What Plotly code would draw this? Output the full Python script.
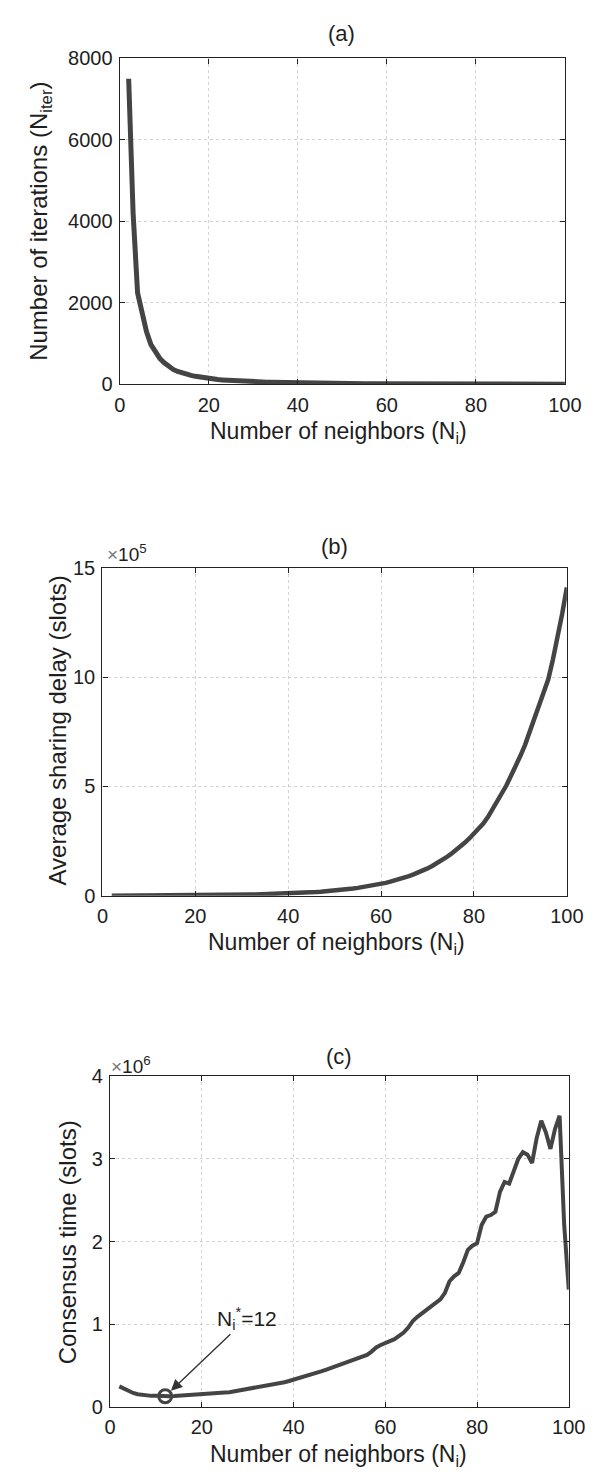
import plotly.graph_objects as go

W, H = 597, 1479

# ---------------- data ----------------
neighbors = list(range(2, 101))

# (a) Number of iterations N_iter
iterations = [7500, 4200, 2250, 1750, 1300, 980, 790, 640, 530, 440,
              370, 320, 280, 250, 225, 200, 180, 160, 140, 130,
              120, 112, 104, 97, 91, 85, 79, 74, 69, 65,
              61, 57, 54, 51, 48, 45, 40, 38, 36, 34,
              32, 31, 29, 28, 27, 26, 25, 24, 23, 22,
              21, 20.5, 20, 19.5, 19, 18.5, 18, 17.5, 17, 16.5,
              16, 15.7, 15.4, 15, 14.7, 14.4, 14.1, 13.8, 13.5, 13.2,
              13, 12.7, 12.5, 12.2, 12, 11.8, 11.6, 11.4, 11.2, 11,
              10.8, 10.6, 10.4, 10.2, 10, 9.9, 9.7, 9.5, 9.4, 9.2,
              9.1, 8.9, 8.8, 8.7, 8.5, 8.4, 8.3, 8.2, 8.1]

# (b) Average sharing delay, in units of 1e5 slots
delay_e5 = [0.0042, 0.0046, 0.005, 0.0055, 0.006, 0.0065, 0.007, 0.008, 0.0085, 0.009,
            0.01, 0.011, 0.012, 0.013, 0.014, 0.015, 0.017, 0.018, 0.02, 0.022,
            0.024, 0.026, 0.028, 0.03, 0.033, 0.036, 0.039, 0.042, 0.046, 0.05,
            0.054, 0.059, 0.064, 0.069, 0.075, 0.081, 0.088, 0.096, 0.104, 0.113,
            0.122, 0.133, 0.145, 0.157, 0.17, 0.185, 0.2, 0.22, 0.24, 0.26,
            0.28, 0.305, 0.33, 0.36, 0.39, 0.425, 0.46, 0.5, 0.545, 0.59,
            0.645, 0.7, 0.76, 0.83, 0.9, 0.98, 1.06, 1.15, 1.25, 1.36,
            1.48, 1.61, 1.75, 1.9, 2.06, 2.23, 2.42, 2.62, 2.85, 3.05,
            3.3, 3.6, 3.95, 4.3, 4.65, 5.05, 5.5, 5.9, 6.4, 6.9,
            7.5, 8.1, 8.6, 9.2, 9.9, 10.8, 11.8, 12.9, 14.1]

# (c) Consensus time, in units of 1e6 slots
consensus_e6 = [0.25, 0.22, 0.19, 0.17, 0.155, 0.145, 0.14, 0.135, 0.135, 0.13,
                0.13, 0.13, 0.132, 0.135, 0.137, 0.14, 0.142, 0.145, 0.15, 0.155,
                0.16, 0.165, 0.17, 0.175, 0.18, 0.19, 0.195, 0.2, 0.21, 0.22,
                0.23, 0.24, 0.25, 0.26, 0.27, 0.285, 0.3, 0.315, 0.33, 0.345,
                0.36, 0.375, 0.39, 0.41, 0.43, 0.45, 0.47, 0.49, 0.51, 0.53,
                0.55, 0.57, 0.59, 0.6, 0.63, 0.67, 0.72, 0.75, 0.77, 0.79,
                0.82, 0.86, 0.9, 0.96, 1.04, 1.09, 1.13, 1.17, 1.21, 1.25,
                1.3, 1.38, 1.52, 1.58, 1.62, 1.75, 1.9, 1.95, 1.98, 2.2,
                2.3, 2.32, 2.36, 2.6, 2.72, 2.7, 2.85, 3.0, 3.08, 3.05,
                2.95, 3.25, 3.46, 3.32, 3.12, 3.36, 3.52, 2.2, 1.42]

optimum_n = [12]
optimum_val = [0.13]

x_ticks = [0, 20, 40, 60, 80, 100]
a_ticks = [0, 2000, 4000, 6000, 8000]
b_ticks = [0, 5, 10, 15]
c_ticks = [0, 1, 2, 3, 4]

# ---------------- layout helpers ----------------
FONT = "Liberation Sans, Arial, sans-serif"
TXT = "#1e1e1e"
LINE = "#444444"


def xdom(l, r):
    return [l / W, r / W]


def ydom(top, bottom):
    return [1 - bottom / H, 1 - top / H]


boxes = {
    "a": (110, 573, 40, 371),
    "b": (92, 575, 557, 890),
    "c": (100, 577, 1073, 1409),
}

fig = go.Figure()

fig.add_trace(go.Scatter(x=neighbors, y=iterations, mode="lines",
                         line=dict(color=LINE, width=5), xaxis="x", yaxis="y",
                         showlegend=False))
fig.add_trace(go.Scatter(x=neighbors, y=delay_e5, mode="lines",
                         line=dict(color=LINE, width=4.5), xaxis="x2", yaxis="y2",
                         showlegend=False))
fig.add_trace(go.Scatter(x=neighbors, y=consensus_e6, mode="lines",
                         line=dict(color=LINE, width=4), xaxis="x3", yaxis="y3",
                         showlegend=False))
fig.add_trace(go.Scatter(x=optimum_n, y=optimum_val, mode="markers",
                         marker=dict(symbol="circle-open", size=13, color=LINE,
                                     line=dict(color=LINE, width=3)),
                         xaxis="x3", yaxis="y3", showlegend=False))


def axis_common():
    return dict(
        showline=True, linecolor="#222", linewidth=1.4, mirror="ticks",
        ticks="inside", ticklen=5, tickwidth=1.2, tickcolor="#222",
        showgrid=True, gridcolor="#d2d2d2", griddash="dot", gridwidth=1,
        zeroline=False, ticklabelstandoff=2,
        tickfont=dict(family=FONT, size=20, color=TXT),
    )


layout = dict(
    width=W, height=H,
    paper_bgcolor="white", plot_bgcolor="white",
    margin=dict(l=0, r=0, t=0, b=0),
    font=dict(family=FONT, color=TXT),
    showlegend=False,
)

names = [("a", "x", "y", a_ticks, [0, 8000]),
         ("b", "x2", "y2", b_ticks, [0, 15]),
         ("c", "x3", "y3", c_ticks, [0, 4])]

for key, xa, ya, yt, yr in names:
    l, r, t, b = boxes[key]
    xk = "xaxis" if xa == "x" else "xaxis" + xa[1:]
    yk = "yaxis" if ya == "y" else "yaxis" + ya[1:]
    xd = axis_common()
    xd.update(domain=xdom(l, r), range=[0, 100], tickvals=x_ticks,
              anchor=ya)
    yd = axis_common()
    yd.update(domain=ydom(t, b), range=yr, tickvals=yt, anchor=xa)
    layout[xk] = xd
    layout[yk] = yd

annotations = []


def txt(x, y, s, size=23, angle=0, xanchor="center", yanchor="middle"):
    annotations.append(dict(
        x=x / W, y=1 - y / H, xref="paper", yref="paper", text=s,
        showarrow=False, textangle=angle, xanchor=xanchor, yanchor=yanchor,
        font=dict(family=FONT, size=size, color=TXT)))


xlab = "Number of neighbors (N<sub>i</sub>)"
# panel titles
txt(341, 15, "(a)", size=22)
txt(333, 535, "(b)", size=22)
txt(338, 1053, "(c)", size=22)
# x-axis titles (top-anchored just below the tick labels)
txt(338, 403, xlab, yanchor="top")
txt(335, 922, xlab, yanchor="top")
txt(337, 1441, xlab, yanchor="top")
# y-axis titles
txt(28, 205, "Number of iterations (N<sub>iter</sub>)", size=24, angle=-90)
txt(45, 722, "Average sharing delay (slots)", size=24, angle=-90)
txt(56, 1242, "Consensus time (slots)", size=24, angle=-90)
# exponent labels
txt(95, 542, "<span style='color:#777'>×</span>10<sup>5</sup>", size=19, xanchor="left")
txt(99, 1062, "<span style='color:#777'>×</span>10<sup>6</sup>", size=19, xanchor="left")

# optimum annotation
annotations.append(dict(
    x=optimum_n[0], y=optimum_val[0], xref="x3", yref="y3",
    text="N<sub>i</sub><sup>*</sup>=12", showarrow=True,
    arrowhead=2, arrowsize=1.6, arrowwidth=1.4, arrowcolor="#333",
    ax=82, ay=-78, standoff=8,
    font=dict(family=FONT, size=21, color=TXT)))

layout["annotations"] = annotations
fig.update_layout(**layout)

fig.write_html("out.html")
